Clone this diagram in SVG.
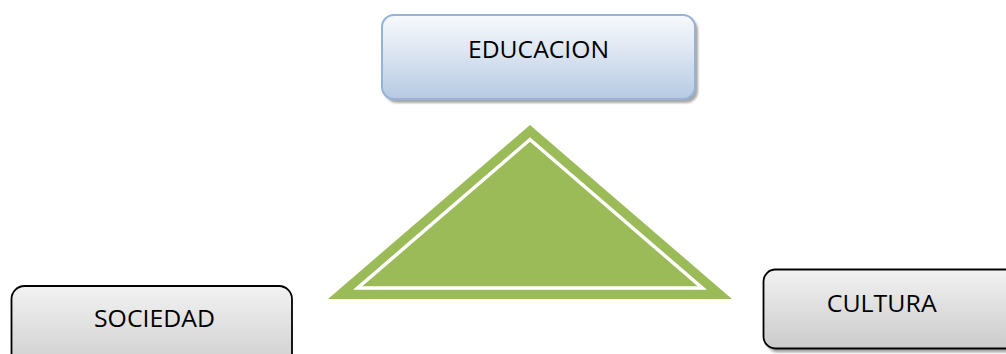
<svg xmlns="http://www.w3.org/2000/svg" width="1006" height="354" viewBox="0 0 1006 354">
  <style>
    .lbl { font-family: "Open Sans", "Liberation Sans", sans-serif; font-size: 24.5px; fill: #000; text-anchor: middle; }
    .gray { fill: url(#grayGrad); stroke: #000; stroke-width: 1.8; }
    .shadow { fill: #8c8c8c; opacity: 0.75; }
  </style>
  <defs>
    <linearGradient id="blueGrad" x1="0" y1="0" x2="0" y2="1">
      <stop offset="0" stop-color="#f7f9fd"/>
      <stop offset="0.35" stop-color="#e3eaf4"/>
      <stop offset="1" stop-color="#b6cae3"/>
    </linearGradient>
    <linearGradient id="grayGrad" x1="0" y1="0" x2="0" y2="1">
      <stop offset="0" stop-color="#f2f2f2"/>
      <stop offset="1" stop-color="#cbcbcb"/>
    </linearGradient>
    <filter id="blur" x="-5%" y="-20%" width="110%" height="140%">
      <feGaussianBlur stdDeviation="0.8"/>
    </filter>
  </defs>

  <g id="connectors"></g>

  <g id="triangle">
    <polygon points="530,125 328,299 732,299" fill="#9bbb59"/>
    <polygon points="530,139.5 357.7,288 702.3,288" fill="none" stroke="#ffffff" stroke-width="3.5" stroke-linejoin="miter"/>
  </g>

  <g id="educacion">
    <rect class="shadow" x="385" y="18" width="313" height="85" rx="12" filter="url(#blur)"/>
    <rect x="382" y="15" width="313" height="84" rx="12" fill="url(#blueGrad)" stroke="#95b3d7" stroke-width="2"/>
    <text class="lbl" x="538.5" y="57.7" textLength="141" lengthAdjust="spacingAndGlyphs">EDUCACION</text>
  </g>

  <g id="sociedad">
    <rect class="gray" x="11.5" y="286" width="280.5" height="90" rx="13"/>
    <text class="lbl" x="154.5" y="327" textLength="121" lengthAdjust="spacingAndGlyphs">SOCIEDAD</text>
  </g>

  <g id="cultura">
    <rect class="shadow" x="766" y="272" width="260" height="80.5" rx="12" filter="url(#blur)"/>
    <rect class="gray" x="763.5" y="269.5" width="260" height="79" rx="12"/>
    <text class="lbl" x="881.7" y="311.7" textLength="110" lengthAdjust="spacingAndGlyphs">CULTURA</text>
  </g>
</svg>
